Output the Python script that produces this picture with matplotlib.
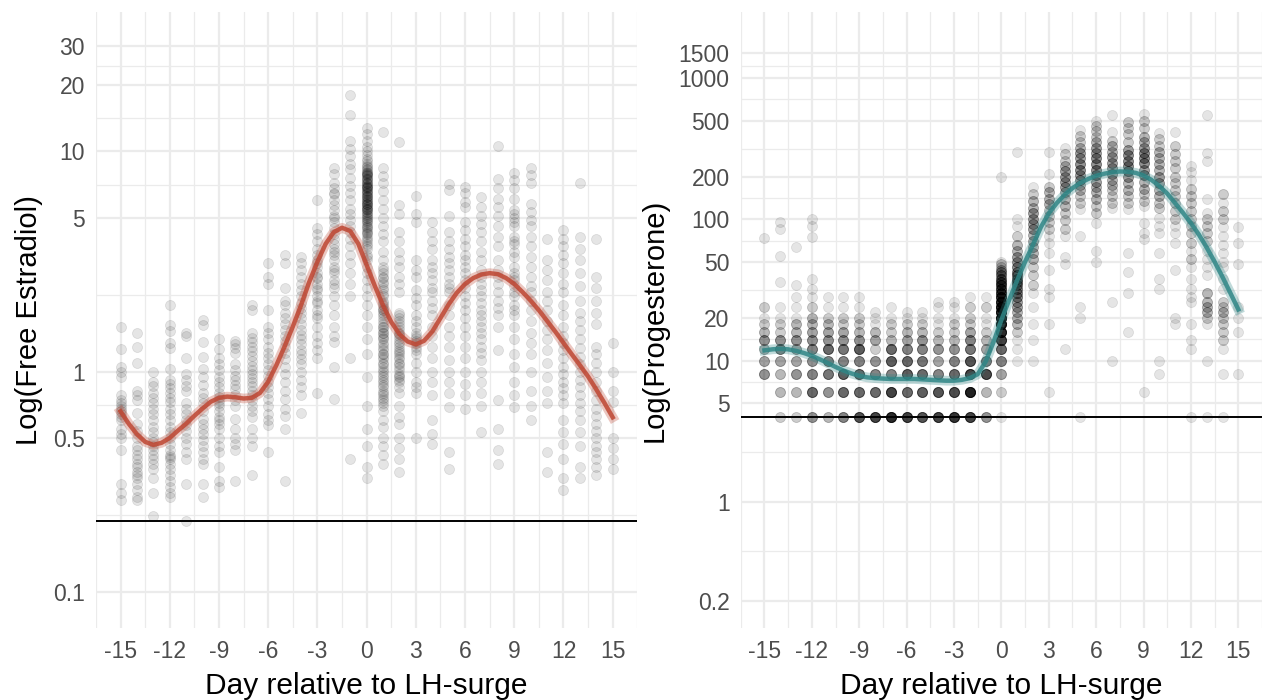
import numpy as np
import matplotlib.pyplot as plt

plt.rcParams['font.family'] = ['Liberation Sans', 'DejaVu Sans']

days = list(range(-15, 16))

# free estradiol, one list of observations per day (-15 .. 15)
e2_values = [
    [1.6, 1.27, 1.05, 1.0, 0.95, 0.78, 0.74, 0.72, 0.7, 0.68, 0.66, 0.64, 0.62, 0.6, 0.55, 0.52, 0.5, 0.44, 0.31, 0.28, 0.26],
    [1.5, 1.3, 1.1, 0.82, 0.78, 0.74, 0.65, 0.58, 0.54, 0.5, 0.46, 0.44, 0.42, 0.4, 0.38, 0.37, 0.35, 0.34, 0.33, 0.31, 0.29, 0.27, 0.26],
    [1.0, 0.9, 0.86, 0.8, 0.76, 0.72, 0.68, 0.64, 0.6, 0.56, 0.53, 0.5, 0.48, 0.46, 0.44, 0.42, 0.4, 0.38, 0.36, 0.33, 0.28, 0.22],
    [2.0, 1.62, 1.53, 1.35, 1.28, 1.03, 0.92, 0.88, 0.84, 0.8, 0.76, 0.73, 0.68, 0.64, 0.6, 0.56, 0.53, 0.5, 0.47, 0.44, 0.42, 0.41, 0.4, 0.38, 0.36, 0.34, 0.32, 0.3, 0.28, 0.27],
    [1.5, 1.45, 1.15, 0.98, 0.92, 0.86, 0.82, 0.72, 0.68, 0.64, 0.6, 0.57, 0.54, 0.5, 0.47, 0.43, 0.4, 0.31, 0.21],
    [1.72, 1.63, 1.36, 1.17, 1.03, 0.95, 0.87, 0.8, 0.76, 0.72, 0.66, 0.61, 0.58, 0.55, 0.52, 0.49, 0.46, 0.43, 0.4, 0.38, 0.31, 0.27],
    [1.4, 1.27, 1.15, 1.08, 1.02, 0.95, 0.9, 0.85, 0.8, 0.77, 0.74, 0.72, 0.7, 0.66, 0.62, 0.6, 0.58, 0.55, 0.5, 0.46, 0.43, 0.37, 0.32, 0.3],
    [1.38, 1.33, 1.28, 1.22, 1.08, 1.02, 0.96, 0.92, 0.87, 0.83, 0.78, 0.74, 0.7, 0.61, 0.55, 0.5, 0.47, 0.44, 0.32],
    [2.0, 1.9, 1.5, 1.42, 1.36, 1.3, 1.24, 1.18, 1.12, 1.06, 1.02, 0.98, 0.94, 0.9, 0.86, 0.82, 0.78, 0.74, 0.7, 0.66, 0.62, 0.55, 0.5, 0.46, 0.34],
    [3.1, 2.7, 2.5, 1.9, 1.6, 1.5, 1.4, 1.3, 1.22, 1.15, 1.08, 1.02, 0.96, 0.9, 0.85, 0.8, 0.75, 0.7, 0.64, 0.6, 0.57, 0.43],
    [3.4, 3.1, 2.4, 2.1, 2.0, 1.85, 1.75, 1.65, 1.55, 1.45, 1.38, 1.3, 1.22, 1.14, 1.05, 0.98, 0.9, 0.82, 0.75, 0.68, 0.63, 0.55, 0.32],
    [3.3, 3.1, 2.9, 2.7, 2.5, 2.35, 2.2, 2.05, 1.95, 1.85, 1.75, 1.65, 1.55, 1.47, 1.4, 1.33, 1.26, 1.2, 1.14, 1.08, 1.0, 0.92, 0.85, 0.78, 0.65],
    [6.0, 4.5, 4.2, 3.9, 3.6, 3.4, 3.2, 3.1, 3.0, 2.8, 2.7, 2.65, 2.5, 2.4, 2.35, 2.2, 2.1, 2.05, 1.9, 1.8, 1.75, 1.6, 1.45, 1.35, 1.25, 1.15, 0.8],
    [8.4, 7.9, 7.2, 6.8, 6.5, 6.4, 6.0, 5.7, 5.4, 5.1, 5.0, 4.8, 4.5, 4.2, 4.0, 3.8, 3.6, 3.5, 3.4, 3.2, 3.0, 2.9, 2.8, 2.6,
     2.5, 2.4, 2.2, 2.0, 1.8, 1.6, 1.45, 1.36, 1.05, 0.75],
    [18.0, 14.7, 11.2, 10.3, 9.5, 8.8, 8.3, 7.6, 7.0, 6.5, 6.0, 5.5, 5.2, 4.9, 4.6, 4.3, 4.0, 3.7, 3.4, 3.1, 2.8, 2.5, 2.2, 1.15, 0.4],
    [12.8, 12.0, 11.2, 10.5, 10.0, 9.6, 9.2, 9.0, 8.8, 8.6, 8.5, 8.3, 8.2, 8.1, 8.0, 8.0, 7.9, 7.8, 7.8, 7.7, 7.6, 7.5,
     7.5, 7.4, 7.3, 7.2, 7.2, 7.1, 7.0, 7.0, 6.9, 6.9, 6.8, 6.8, 6.7, 6.6, 6.6, 6.5, 6.5, 6.4, 6.3, 6.3, 6.2, 6.2, 6.1,
     6.0, 6.0, 5.9, 5.9, 5.8, 5.8, 5.75, 5.7, 5.6, 5.6, 5.5, 5.5, 5.45, 5.4, 5.3, 5.3, 5.2, 5.15, 5.1, 5.0, 5.0, 4.9,
     4.85, 4.8, 4.7, 4.6, 4.55, 4.5, 4.4, 4.3, 4.25, 4.2, 4.1, 4.0, 3.9, 3.8, 3.7, 3.6, 3.4, 3.3, 3.2, 3.0, 2.8, 2.6,
     2.4, 2.2, 2.0, 1.8, 1.6, 1.4, 1.2, 0.95, 0.7, 0.55, 0.46, 0.37, 0.33],
    [12.2, 8.4, 7.7, 7.2, 6.6, 6.0, 5.5, 5.0, 4.6, 4.2, 3.9, 3.5, 3.2, 3.0, 2.9, 2.8, 2.7, 2.65, 2.55, 2.5, 2.4, 2.35,
     2.25, 2.2, 2.1, 2.05, 2.0, 1.95, 1.9, 1.9, 1.85, 1.8, 1.75, 1.7, 1.65, 1.6, 1.6, 1.55, 1.5, 1.5, 1.45, 1.42, 1.4,
     1.35, 1.32, 1.28, 1.25, 1.2, 1.2, 1.17, 1.14, 1.1, 1.08, 1.05, 1.02, 1.0, 0.97, 0.95, 0.92, 0.9, 0.87, 0.85, 0.82,
     0.8, 0.78, 0.76, 0.74, 0.72, 0.7, 0.66, 0.6, 0.56, 0.5, 0.46, 0.42, 0.38],
    [11.0, 5.7, 5.2, 4.3, 3.9, 3.5, 3.2, 3.0, 2.7, 2.5, 2.3, 1.85, 1.8, 1.75, 1.7, 1.65, 1.6, 1.55, 1.5, 1.48, 1.45, 1.4,
     1.36, 1.33, 1.3, 1.26, 1.23, 1.2, 1.17, 1.14, 1.1, 1.08, 1.05, 1.02, 0.98, 0.96, 0.95, 0.92, 0.9, 0.85, 0.8, 0.7,
     0.62, 0.58, 0.5, 0.45, 0.4, 0.35],
    [6.3, 5.2, 4.8, 3.2, 2.9, 2.7, 2.35, 2.15, 2.0, 1.8, 1.7, 1.6, 1.5, 1.45, 1.42, 1.38, 1.35, 1.3, 1.25, 1.2, 1.1, 1.0, 0.9, 0.85, 0.8, 0.5],
    [4.8, 4.3, 3.9, 3.6, 3.2, 3.0, 2.8, 2.6, 2.4, 2.3, 2.1, 1.95, 1.8, 1.6, 1.45, 1.3, 1.15, 1.0, 0.9, 0.78, 0.6, 0.52, 0.47],
    [7.1, 6.7, 5.1, 4.3, 3.9, 3.6, 3.3, 3.1, 2.9, 2.7, 2.5, 2.4, 2.3, 2.0, 1.8, 1.6, 1.45, 1.3, 1.13, 1.0, 0.9, 0.8, 0.69, 0.43, 0.36],
    [6.9, 6.5, 5.9, 5.6, 4.8, 4.4, 4.0, 3.7, 3.4, 3.2, 3.0, 2.8, 2.6, 2.4, 2.2, 2.05, 1.9, 1.75, 1.6, 1.45, 1.3, 1.15, 1.0, 0.88, 0.78, 0.68],
    [6.2, 5.6, 5.1, 4.7, 4.3, 3.9, 3.5, 3.2, 2.9, 2.7, 2.5, 2.35, 2.2, 2.05, 1.9, 1.8, 1.7, 1.6, 1.5, 1.4, 1.3, 1.22, 1.13, 1.0, 0.9, 0.8, 0.7, 0.53],
    [10.6, 7.5, 6.8, 6.1, 5.6, 5.1, 4.6, 4.1, 3.7, 3.2, 2.9, 2.7, 2.5, 2.3, 2.1, 1.95, 1.8, 1.6, 1.25, 0.74, 0.55, 0.44, 0.38],
    [8.0, 7.4, 6.8, 6.1, 5.4, 5.2, 5.0, 4.8, 4.6, 4.1, 3.9, 3.8, 3.5, 3.3, 3.0, 2.8, 2.7, 2.6, 2.45, 2.3, 2.2, 2.0, 1.9, 1.8, 1.6, 1.4, 1.2, 1.05, 0.9, 0.78, 0.69],
    [8.4, 7.8, 7.2, 5.8, 5.3, 4.9, 4.6, 4.1, 3.7, 3.3, 3.0, 2.7, 2.45, 2.3, 2.1, 1.9, 1.7, 1.5, 1.35, 1.2, 1.0, 0.82, 0.7, 0.6],
    [4.0, 3.2, 2.9, 2.6, 2.3, 2.1, 1.9, 1.7, 1.55, 1.4, 1.25, 1.1, 0.95, 0.82, 0.72, 0.43, 0.35],
    [4.4, 4.0, 3.7, 3.4, 3.1, 2.8, 2.5, 2.3, 2.0, 1.8, 1.6, 1.45, 1.35, 1.25, 1.15, 1.05, 0.98, 0.9, 0.84, 0.78, 0.72, 0.6, 0.53, 0.47, 0.4, 0.33, 0.29],
    [7.2, 4.1, 3.6, 3.2, 2.8, 2.45, 2.1, 1.85, 1.7, 1.55, 1.4, 1.28, 1.17, 1.08, 1.0, 0.92, 0.85, 0.78, 0.72, 0.66, 0.6, 0.53, 0.46, 0.37, 0.33],
    [4.0, 2.7, 2.4, 2.1, 1.85, 1.65, 1.3, 1.2, 1.1, 1.0, 0.9, 0.82, 0.74, 0.68, 0.63, 0.58, 0.54, 0.5, 0.46, 0.43, 0.4, 0.37, 0.34],
    [1.35, 1.0, 0.82, 0.73, 0.5, 0.45, 0.4, 0.36],
]

# fitted estradiol trajectory, half-day steps
e2_fit_day = [d / 2 for d in range(-30, 31)]
e2_fit = [0.66, 0.58, 0.52, 0.48, 0.465, 0.475, 0.5, 0.54, 0.58, 0.63, 0.68, 0.73, 0.76, 0.77, 0.765, 0.755, 0.76,
          0.8, 0.9, 1.07, 1.3, 1.6, 2.0, 2.55, 3.15, 3.8, 4.3, 4.5, 4.35, 3.8, 3.05, 2.45, 2.0, 1.68, 1.48, 1.37, 1.33,
          1.38, 1.52, 1.75, 2.02, 2.28, 2.5, 2.66, 2.76, 2.8, 2.77, 2.66, 2.5, 2.3, 2.1, 1.9, 1.7, 1.52, 1.35, 1.2,
          1.07, 0.95, 0.83, 0.72, 0.62]
e2_lod = 0.21

# progesterone, measured values per day with the number of samples at each value
p4_values = [
    [8, 10, 12, 14, 16, 18, 20, 24, 74],
    [4, 6, 8, 10, 12, 14, 16, 18, 20, 24, 36, 55, 85, 95],
    [4, 6, 8, 10, 12, 14, 16, 18, 20, 24, 28, 34, 64],
    [4, 6, 8, 10, 12, 14, 16, 18, 20, 24, 28, 32, 38, 75, 90, 100],
    [4, 6, 8, 10, 12, 14, 16, 18, 20, 24, 28],
    [4, 6, 8, 10, 12, 14, 16, 18, 20, 24, 28],
    [4, 6, 8, 10, 12, 14, 16, 18, 20, 24, 28],
    [4, 6, 8, 10, 12, 14, 16, 18, 20, 22],
    [4, 6, 8, 10, 12, 14, 16, 18, 20, 24],
    [4, 6, 8, 10, 12, 14, 16, 18, 20, 22],
    [4, 6, 8, 10, 12, 14, 16, 18, 20, 22],
    [4, 6, 8, 10, 12, 14, 16, 18, 20, 24, 26],
    [4, 6, 8, 10, 12, 14, 16, 18, 20, 24, 26],
    [4, 6, 8, 10, 12, 14, 16, 18, 20, 24, 28],
    [4, 6, 8, 10, 12, 14, 16, 18, 20, 24, 28],
    [4, 6, 8, 10, 12, 14, 16, 18, 20, 22, 24, 26, 28, 30, 32, 34, 36, 38, 40, 42, 44, 46, 48, 50, 200],
    [10, 12, 14, 16, 18, 20, 22, 24, 26, 28, 30, 32, 34, 36, 38, 40, 42, 46, 50, 54, 60, 66, 76, 90, 100, 300],
    [10, 14, 18, 24, 30, 34, 40, 46, 52, 58, 64, 70, 78, 85, 92, 100, 110, 120, 135, 150, 170],
    [6, 18, 28, 32, 44, 58, 68, 76, 85, 95, 105, 117, 128, 140, 155, 168, 210, 300],
    [12, 48, 54, 76, 86, 98, 110, 125, 140, 155, 170, 185, 200, 220, 240, 260, 290, 320],
    [4, 20, 24, 76, 118, 130, 145, 160, 175, 190, 205, 225, 245, 270, 295, 320, 350, 390, 430],
    [50, 60, 94, 110, 125, 140, 155, 170, 185, 205, 225, 245, 270, 295, 320, 350, 380, 420, 460, 500],
    [10, 26, 120, 130, 145, 160, 175, 190, 210, 230, 250, 275, 300, 330, 360, 415, 550],
    [16, 30, 42, 58, 118, 130, 145, 160, 180, 200, 220, 240, 260, 285, 310, 350, 400, 440, 490],
    [6, 72, 80, 94, 125, 135, 150, 165, 185, 205, 225, 250, 270, 295, 320, 350, 385, 440, 500, 560],
    [8, 10, 32, 38, 58, 80, 90, 102, 120, 130, 145, 160, 180, 200, 222, 245, 270, 300, 330, 370, 410],
    [18, 20, 44, 68, 80, 90, 100, 115, 130, 145, 160, 180, 200, 230, 260, 290, 330, 415],
    [4, 12, 14, 18, 26, 28, 32, 38, 46, 52, 60, 68, 80, 90, 100, 115, 130, 145, 165, 190, 215, 240],
    [4, 10, 18, 20, 22, 24, 26, 30, 40, 46, 52, 60, 70, 80, 90, 100, 110, 138, 260, 295, 550],
    [4, 8, 12, 14, 16, 18, 20, 22, 24, 26, 32, 38, 46, 50, 58, 66, 76, 88, 100, 115, 130, 150],
    [8, 16, 20, 24, 48, 68, 88],
]
p4_counts = [
    [5, 4, 3, 5, 3, 2, 1, 2, 1],
    [2, 3, 3, 4, 6, 5, 2, 2, 1, 1, 1, 1, 1, 1],
    [2, 3, 5, 4, 4, 5, 3, 3, 1, 1, 1, 1, 1],
    [5, 8, 6, 5, 6, 5, 4, 3, 3, 2, 1, 1, 1, 1, 1, 1],
    [3, 5, 7, 6, 8, 5, 4, 3, 2, 1, 1],
    [6, 8, 9, 6, 7, 5, 4, 2, 2, 1, 1],
    [10, 8, 8, 6, 9, 5, 3, 2, 2, 1, 1],
    [12, 8, 6, 5, 2, 4, 3, 1, 1, 1],
    [16, 12, 6, 9, 8, 3, 2, 2, 1, 1],
    [12, 8, 9, 8, 6, 4, 3, 2, 1, 1],
    [10, 9, 8, 7, 6, 5, 3, 2, 1, 1],
    [12, 10, 6, 4, 5, 3, 2, 1, 1, 1, 1],
    [14, 11, 8, 6, 5, 3, 2, 2, 1, 1, 1],
    [12, 18, 12, 10, 7, 6, 4, 2, 2, 2, 1],
    [5, 3, 11, 6, 4, 3, 2, 1, 1, 2, 1],
    [1, 2, 4, 6, 8, 12, 16, 18, 18, 16, 16, 14, 12, 10, 9, 8, 7, 6, 5, 4, 3, 2, 2, 1, 1],
    [1, 1, 1, 2, 3, 3, 3, 4, 4, 5, 5, 5, 5, 6, 6, 6, 5, 5, 4, 4, 3, 3, 2, 1, 1, 1],
    [1, 1, 1, 1, 1, 2, 2, 2, 3, 3, 3, 3, 3, 4, 4, 4, 4, 3, 3, 2, 1],
    [1, 1, 1, 1, 1, 1, 1, 1, 2, 2, 2, 2, 3, 3, 3, 2, 1, 1],
    [1, 1, 1, 1, 2, 2, 2, 3, 3, 3, 4, 4, 4, 4, 3, 2, 2, 1],
    [1, 1, 1, 1, 1, 2, 2, 3, 3, 4, 4, 5, 5, 4, 4, 3, 2, 2, 1],
    [1, 1, 1, 2, 2, 3, 3, 3, 4, 4, 5, 5, 5, 4, 4, 3, 2, 2, 2, 1],
    [1, 1, 1, 2, 2, 2, 3, 3, 4, 4, 4, 4, 3, 3, 2, 1, 1],
    [1, 1, 1, 1, 1, 2, 2, 3, 3, 4, 4, 5, 5, 5, 4, 2, 2, 2, 2],
    [1, 1, 1, 1, 1, 2, 2, 3, 3, 4, 4, 5, 5, 5, 4, 3, 3, 2, 2, 1],
    [1, 1, 1, 1, 1, 1, 1, 1, 2, 2, 3, 3, 4, 4, 3, 3, 3, 3, 2, 2, 1],
    [1, 1, 1, 1, 1, 1, 2, 2, 2, 2, 2, 2, 2, 2, 2, 2, 2, 1],
    [1, 1, 1, 1, 1, 1, 1, 1, 1, 2, 1, 2, 2, 2, 2, 2, 2, 2, 2, 1, 1, 1],
    [1, 1, 1, 2, 3, 3, 3, 3, 1, 1, 1, 1, 2, 2, 2, 2, 1, 1, 1, 1, 1],
    [1, 1, 1, 2, 2, 2, 2, 3, 2, 2, 1, 1, 1, 1, 1, 1, 1, 1, 2, 2, 1, 2],
    [1, 1, 1, 1, 1, 1, 1],
]

# fitted progesterone trajectory, half-day steps
p4_fit_day = [d / 2 for d in range(-30, 31)]
p4_fit = [11.8, 12.0, 12.1, 12.0, 11.7, 11.3, 10.8, 10.2, 9.6, 9.0, 8.5, 8.1, 7.8, 7.6, 7.5, 7.45, 7.4, 7.4, 7.4,
          7.4, 7.35, 7.3, 7.25, 7.2, 7.2, 7.3, 7.5, 8.0, 9.8, 13.5, 19.4, 27, 37, 50, 66, 88, 110, 130, 149, 166,
          181, 193, 203, 210, 215, 218, 217, 213, 204, 190, 172, 152, 130, 111, 94, 78, 63, 50, 39, 30, 23]
p4_lod = 4

day_ticks = [-15, -12, -9, -6, -3, 0, 3, 6, 9, 12, 15]
e2_ticks = [0.1, 0.5, 1, 5, 10, 20, 30]
p4_ticks = [0.2, 1, 5, 10, 20, 50, 100, 200, 500, 1000, 1500]

GRID = '#EBEBEB'


def draw_panel(ax, xs, ys, fit_x, fit_y, color, lod, yticks, ylim, ylabel):
    ax.scatter(xs, ys, s=52, color='black', alpha=0.1, linewidths=0.6, zorder=2)
    ax.plot(fit_x, fit_y, color=color, lw=7, alpha=0.3, zorder=3)
    ax.plot(fit_x, fit_y, color=color, lw=3.2, alpha=0.85, zorder=4)
    ax.axhline(lod, color='black', lw=1.4, zorder=5)

    ax.set_yscale('log')
    ax.set_xlim(-16.5, 16.5)
    ax.set_ylim(*ylim)

    # minor breaks sit halfway between majors on the log scale
    yminor = [np.sqrt(a * b) for a, b in zip(yticks[:-1], yticks[1:])]
    xminor = [t + 1.5 for t in day_ticks[:-1]] + [-16.5, 16.5]
    ax.set_xticks(day_ticks)
    ax.set_xticklabels([str(d) for d in day_ticks])
    ax.set_xticks(xminor, minor=True)
    ax.set_yticks(yticks)
    ax.set_yticklabels([f'{t:g}' for t in yticks])
    ax.set_yticks(yminor, minor=True)
    ax.yaxis.set_minor_formatter(plt.NullFormatter())

    ax.grid(True, which='major', color=GRID, lw=1.6, zorder=0)
    ax.grid(True, which='minor', color=GRID, lw=0.9, zorder=0)
    ax.set_axisbelow(True)
    for s in ax.spines.values():
        s.set_visible(False)
    ax.tick_params(which='both', length=0)
    ax.tick_params(axis='both', labelsize=16.5, labelcolor='#4D4D4D')
    ax.tick_params(axis='x', pad=9)
    ax.tick_params(axis='y', pad=8)
    ax.set_xlabel('Day relative to LH-surge', fontsize=21.5, labelpad=6)
    ax.set_ylabel(ylabel, fontsize=21, labelpad=7)


fig = plt.figure(figsize=(12.62, 7.0), dpi=100)
ax1 = fig.add_axes([0.076, 0.103, 0.429, 0.880])
ax2 = fig.add_axes([0.587, 0.103, 0.413, 0.880])

e2_x = np.concatenate([[d] * len(v) for d, v in zip(days, e2_values)])
e2_y = np.concatenate(e2_values)
draw_panel(ax1, e2_x, e2_y, e2_fit_day, e2_fit, '#BE4632', e2_lod, e2_ticks, (0.0686, 43), 'Log(Free Estradiol)')

p4_x = np.concatenate([[d] * sum(c) for d, c in zip(days, p4_counts)])
p4_y = np.concatenate([np.repeat(v, c) for v, c in zip(p4_values, p4_counts)])
draw_panel(ax2, p4_x, p4_y, p4_fit_day, p4_fit, '#2F8686', p4_lod, p4_ticks, (0.128, 2937), 'Log(Progesterone)')

fig.savefig('out.png', dpi=100, facecolor='white')
